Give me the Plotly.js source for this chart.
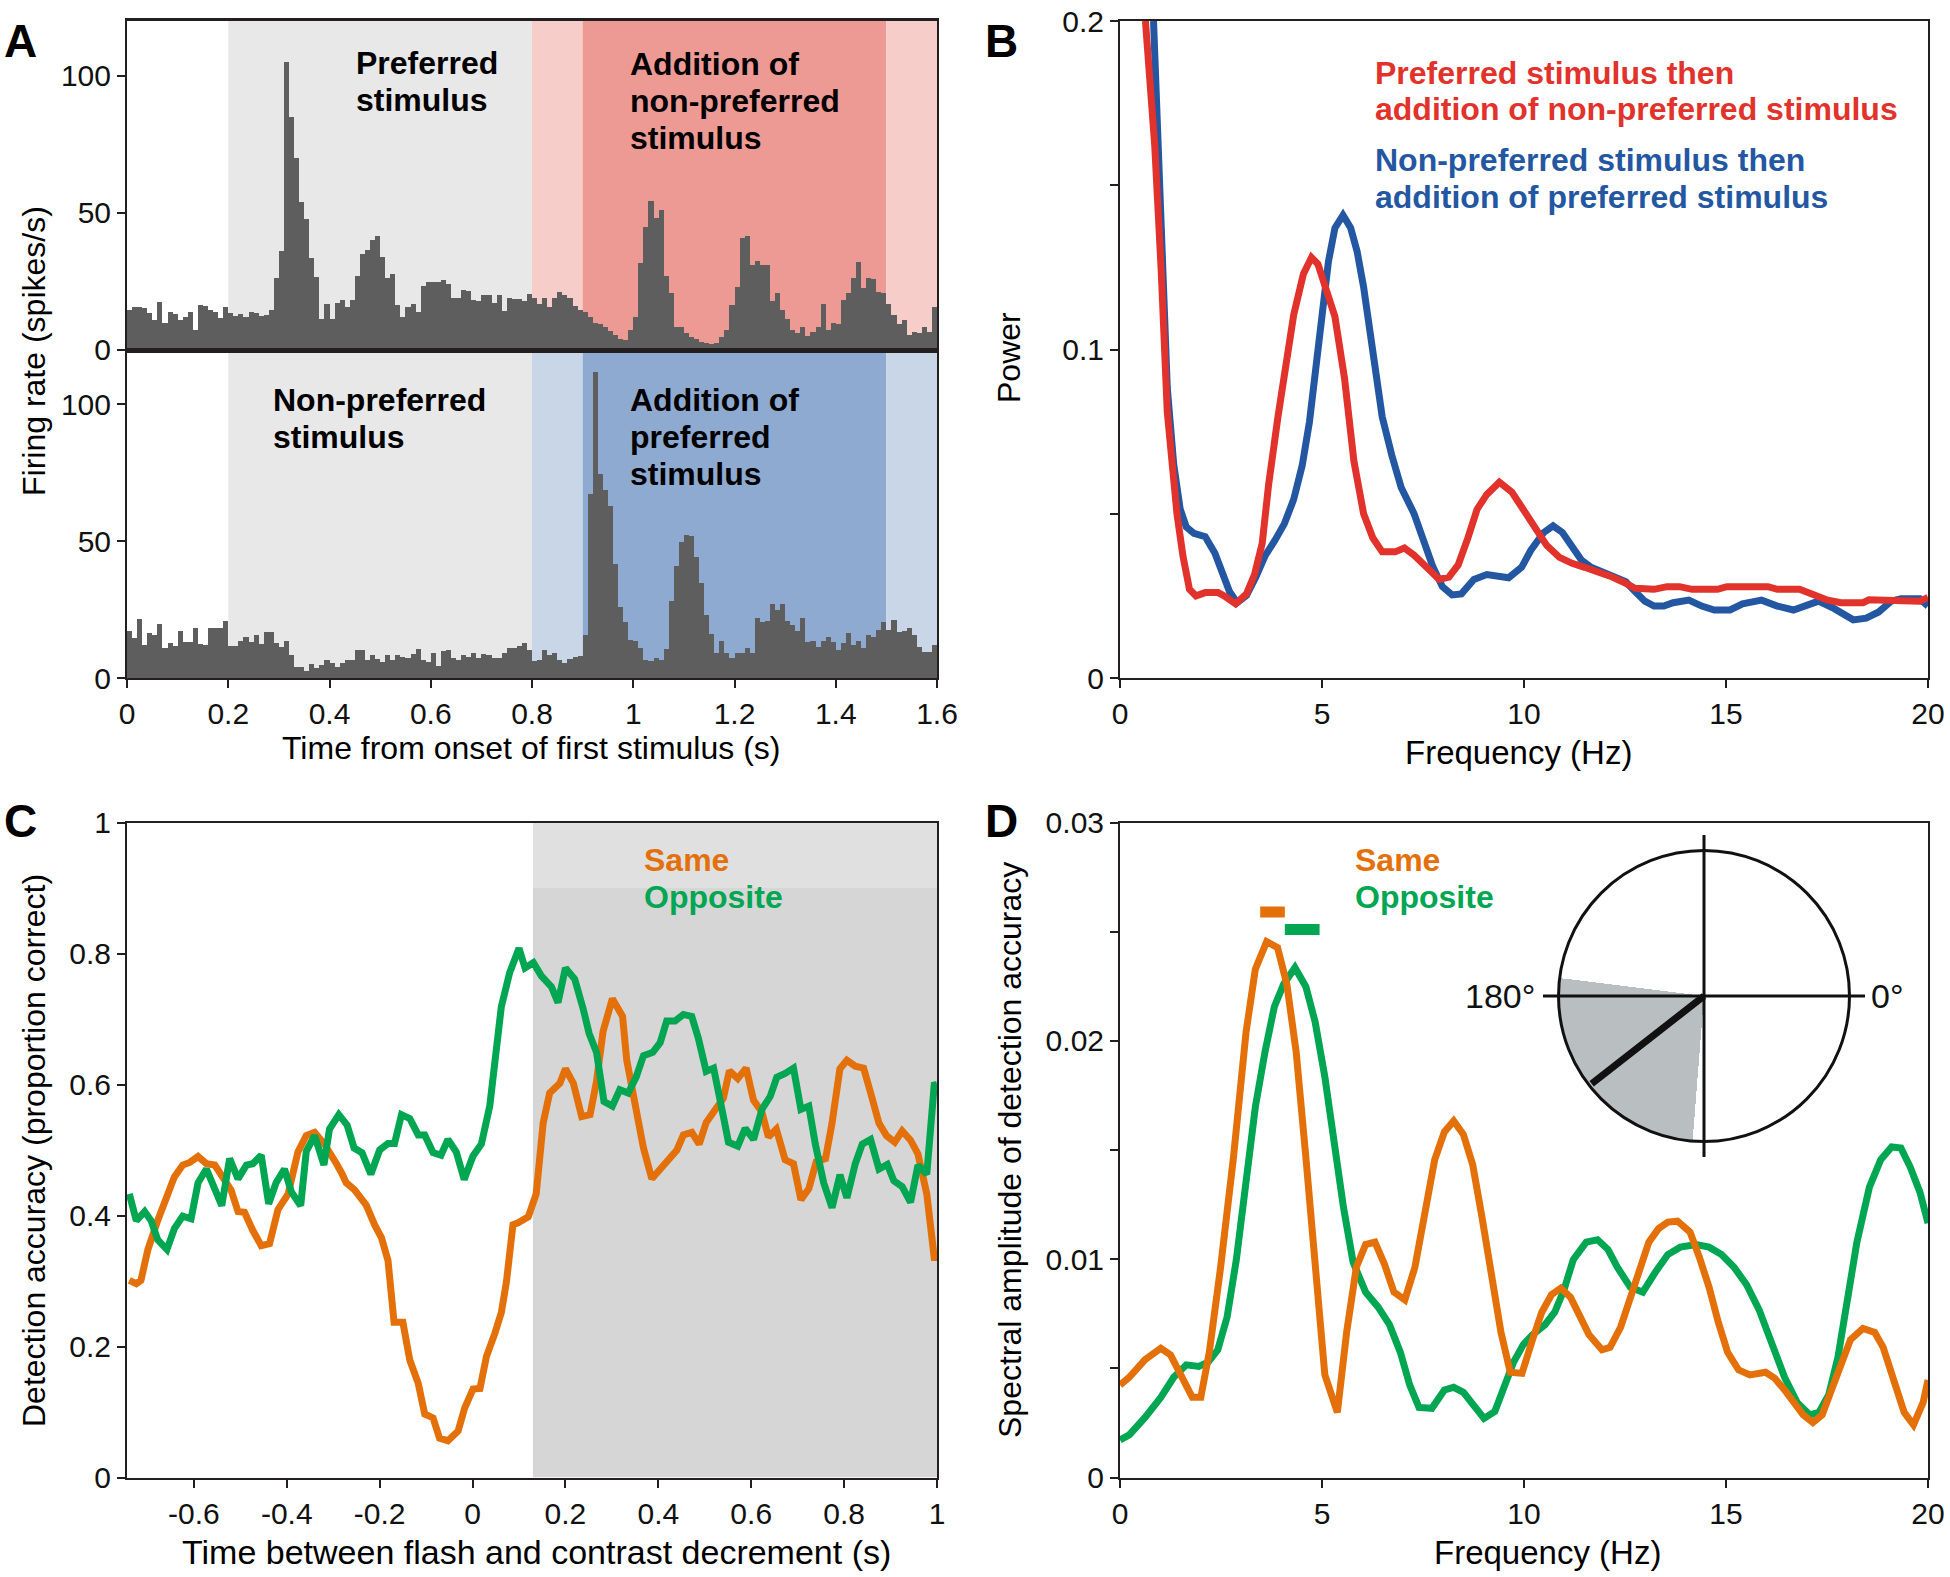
<!DOCTYPE html>
<html><head><meta charset="utf-8">
<script src="https://cdn.plot.ly/plotly-3.0.1.min.js"></script>
<style>html,body{margin:0;padding:0;background:#fff;}#chart{width:1950px;height:1577px;}</style>
</head><body><div id="chart"></div>
<script>
// ---------------- DATA ----------------
// Panel A: PSTH, 10 ms bins from 0 to 1.6 s (spikes/s)
const binStart = 0, binWidth = 0.01;
const prefFirstRate = [
 14.4,15.6,15.6,15.2,13.4,10.7,17.4,9.5,13.8,13.0,
 10.7,12.0,13.8,7.3,16.2,15.8,14.6,13.8,11.5,15.6,
 13.4,12.2,12.9,12.0,13.8,13.4,12.2,12.6,14.4,26.3,
 36.0,105,85,70,54,47.6,33.3,26.6,11.3,16.8,
 11.3,17.0,18.0,15.6,18.0,26.8,34.8,36.3,40.0,41.6,
 33.7,26.3,27.6,16.2,11.7,15.6,16.6,13.8,23.2,24.8,
 24.5,24.5,25.4,23.9,18.9,18.7,21.7,21.3,18.0,17.7,
 19.8,19.8,17.0,19.8,14.0,18.9,18.5,18.3,17.8,20.2,
 18.7,16.6,18.9,15.4,18.7,21.1,19.9,18.7,16.0,14.4,
 13.8,12.0,9.8,9.3,8.3,6.8,5.2,4.0,3.4,7.3,
 12.0,31.5,44.9,54.3,48.2,51.0,26.8,20.7,8.3,8.3,
 6.2,4.6,4.0,2.6,2.4,2.0,2.2,4.6,7.3,16.2,
 22.9,40.9,41.6,30.9,32.4,30.9,30.9,17.8,20.7,14.4,
 11.0,7.3,5.9,8.3,4.9,6.5,8.3,16.6,7.1,9.5,
 9.3,18.0,20.7,26.3,31.8,22.3,26.0,25.7,21.1,20.7,
 16.6,12.6,9.3,10.7,5.2,6.5,6.1,8.3,6.5,15.4];
const nonprefFirstRate = [
 17.2,14.7,21.6,12.1,16.3,15.7,19.6,11.1,12.7,11.8,
 17.2,13.0,13.0,18.1,12.3,12.1,18.1,18.1,18.4,20.8,
 11.8,11.8,13.5,15.1,13.3,15.7,12.3,16.7,16.7,12.7,
 11.4,13.5,8.4,4.1,4.1,2.6,5.0,3.5,4.8,6.6,
 5.4,4.1,5.4,6.6,6.6,10.2,10.2,6.6,8.4,7.0,
 6.0,8.4,6.6,8.4,7.8,7.2,8.6,10.6,6.6,6.0,
 9.3,4.5,9.9,10.2,7.2,6.6,8.4,7.8,9.3,7.2,
 8.8,8.4,7.2,7.4,9.0,10.8,10.8,11.8,12.7,10.2,
 6.2,6.6,10.2,8.4,9.3,6.6,5.4,6.9,7.8,8.2,
 15.7,67.1,111.9,74.4,68.5,62.8,41.5,25.8,20.6,13.9,
 13.5,11.1,6.6,6.2,7.4,6.6,10.6,28.1,41.0,49.5,
 52.3,51.9,44.3,34.6,23.0,16.0,9.0,13.5,9.0,7.2,
 9.3,9.0,11.1,9.0,21.8,20.3,20.8,26.9,25.0,26.9,
 20.8,19.4,17.2,21.8,13.3,13.5,11.4,13.5,15.1,13.0,
 10.2,12.7,16.3,12.1,13.5,10.8,15.7,15.1,17.5,20.6,
 17.5,21.2,16.7,17.2,18.1,15.7,11.4,9.6,9.6,12.1];
// stimulus epochs (s): first stimulus alone, transition, both, offset
const epochStart = [0.2, 0.8, 0.9, 1.5];
const epochEnd   = [0.8, 0.9, 1.5, 1.6];
const tickTimesA = [0,0.2,0.4,0.6,0.8,1,1.2,1.4,1.6];

// Panel B: power spectra
const freqRed = [0.63,0.86,1.02,1.17,1.41,1.56,1.72,1.88,2.11,2.43,2.58,2.86,3.13,3.33,3.52,3.68,3.91,4.15,4.30,4.54,4.74,4.90,5.09,5.32,5.56,5.79,6.03,6.26,6.49,6.81,7.04,7.28,7.59,7.90,8.14,8.37,8.61,8.84,9.08,9.39,9.70,10.02,10.33,10.56,10.88,11.19,11.50,11.82,12.13,12.44,12.75,13.22,13.54,13.85,14.16,14.79,15.02,16.04,16.27,16.82,17.05,17.29,17.52,17.84,18.39,18.54,19.17,19.48,19.80,20.0];
const powRed = [0.200,0.162,0.124,0.081,0.050,0.037,0.027,0.025,0.026,0.026,0.025,0.0226,0.0256,0.0315,0.041,0.059,0.0795,0.100,0.1106,0.123,0.128,0.126,0.118,0.110,0.091,0.066,0.050,0.0426,0.0384,0.0384,0.0396,0.0374,0.0337,0.030,0.0307,0.0344,0.0426,0.0514,0.0559,0.0596,0.0566,0.0507,0.0448,0.0404,0.0367,0.0349,0.0337,0.0325,0.031,0.0293,0.0273,0.027,0.0278,0.0278,0.027,0.027,0.0278,0.0278,0.027,0.027,0.026,0.0251,0.0237,0.0229,0.0229,0.0238,0.0238,0.0234,0.0234,0.0245];
const freqBlue = [0.83,1.02,1.17,1.33,1.49,1.64,1.83,2.11,2.35,2.55,2.71,2.90,3.13,3.36,3.60,3.83,4.07,4.30,4.51,4.69,4.85,5.01,5.16,5.32,5.52,5.71,5.87,6.03,6.26,6.49,6.73,6.96,7.28,7.51,7.75,7.98,8.22,8.45,8.76,9.08,9.31,9.62,9.94,10.17,10.49,10.72,10.95,11.19,11.42,11.66,11.97,12.28,12.52,12.75,12.99,13.22,13.46,13.69,14.08,14.40,14.71,15.10,15.41,15.88,16.27,16.67,17.05,17.29,17.68,18.15,18.47,18.78,19.09,19.33,19.80,20.0];
const powBlue = [0.200,0.133,0.0884,0.065,0.0514,0.046,0.044,0.043,0.038,0.0315,0.0263,0.0229,0.0251,0.0307,0.0374,0.0418,0.047,0.0544,0.0647,0.078,0.0943,0.112,0.1268,0.137,0.1409,0.137,0.1298,0.119,0.100,0.0795,0.0677,0.058,0.050,0.0426,0.0337,0.0278,0.0253,0.0256,0.030,0.0315,0.031,0.0305,0.0337,0.0389,0.0443,0.0463,0.0443,0.0404,0.0359,0.0337,0.0322,0.0307,0.0293,0.0263,0.0234,0.0219,0.0219,0.0229,0.0237,0.0219,0.0207,0.0207,0.0226,0.0237,0.0219,0.0207,0.0222,0.0234,0.0211,0.0177,0.0182,0.0201,0.0234,0.0241,0.0241,0.0219];

// Panel C: detection accuracy vs time between flash and contrast decrement
const timeSame = [-0.739,-0.724,-0.714,-0.699,-0.678,-0.660,-0.642,-0.624,-0.609,-0.591,
 -0.573,-0.555,-0.537,-0.520,-0.505,-0.491,-0.473,-0.455,-0.437,-0.419,
 -0.397,-0.376,-0.358,-0.340,-0.320,-0.304,-0.293,-0.282,-0.272,-0.254,
 -0.239,-0.229,-0.211,-0.196,-0.182,-0.169,-0.150,-0.135,-0.117,-0.103,
 -0.085,-0.071,-0.053,-0.031,-0.017,0.001,0.016,0.030,0.048,0.062,
 0.073,0.087,0.098,0.120,0.137,0.152,0.166,0.188,0.200,0.217,
 0.235,0.253,0.267,0.281,0.301,0.323,0.332,0.352,0.368,0.386,
 0.407,0.425,0.440,0.454,0.472,0.488,0.503,0.522,0.540,0.553,
 0.571,0.589,0.605,0.623,0.637,0.654,0.673,0.691,0.707,0.724,
 0.740,0.760,0.774,0.791,0.806,0.824,0.842,0.858,0.875,0.891,
 0.909,0.925,0.943,0.959,0.978,0.994,1.0];
const accSame = [0.301,0.296,0.301,0.348,0.392,0.426,0.459,0.477,0.481,0.490,
 0.479,0.477,0.459,0.439,0.406,0.405,0.377,0.354,0.357,0.409,
 0.433,0.497,0.522,0.527,0.510,0.494,0.479,0.465,0.450,0.439,
 0.426,0.416,0.386,0.366,0.331,0.237,0.237,0.179,0.144,0.097,
 0.091,0.060,0.056,0.071,0.106,0.135,0.136,0.185,0.220,0.252,
 0.299,0.386,0.389,0.398,0.433,0.541,0.587,0.602,0.624,0.602,
 0.551,0.554,0.605,0.681,0.731,0.704,0.637,0.561,0.503,0.456,
 0.472,0.487,0.500,0.523,0.527,0.509,0.542,0.561,0.579,0.621,
 0.609,0.625,0.576,0.558,0.520,0.532,0.485,0.479,0.424,0.441,
 0.482,0.487,0.541,0.624,0.637,0.628,0.625,0.585,0.541,0.522,
 0.512,0.529,0.515,0.494,0.433,0.336,0.336];
const timeOpp = [-0.739,-0.724,-0.706,-0.692,-0.678,-0.658,-0.642,-0.624,-0.606,-0.591,
 -0.573,-0.559,-0.540,-0.523,-0.505,-0.487,-0.473,-0.455,-0.439,-0.423,
 -0.405,-0.390,-0.370,-0.358,-0.340,-0.320,-0.308,-0.288,-0.270,-0.255,
 -0.238,-0.219,-0.200,-0.182,-0.168,-0.153,-0.135,-0.117,-0.103,-0.085,
 -0.068,-0.053,-0.035,-0.018,0.001,0.019,0.037,0.062,0.080,0.100,
 0.113,0.131,0.148,0.170,0.184,0.200,0.220,0.238,0.251,0.267,
 0.283,0.301,0.317,0.335,0.352,0.368,0.388,0.404,0.418,0.436,
 0.454,0.472,0.486,0.503,0.519,0.537,0.551,0.571,0.587,0.605,
 0.623,0.641,0.655,0.673,0.691,0.707,0.724,0.738,0.756,0.774,
 0.791,0.806,0.824,0.839,0.857,0.875,0.893,0.907,0.925,0.943,
 0.959,0.978,0.994,1.0];
const accOpp = [0.433,0.392,0.406,0.392,0.363,0.348,0.380,0.399,0.395,0.450,
 0.471,0.447,0.415,0.487,0.456,0.477,0.479,0.492,0.418,0.450,
 0.471,0.436,0.415,0.498,0.522,0.477,0.532,0.554,0.538,0.503,
 0.496,0.463,0.500,0.510,0.510,0.554,0.548,0.523,0.523,0.496,
 0.492,0.516,0.497,0.455,0.491,0.509,0.567,0.719,0.771,0.808,
 0.778,0.786,0.766,0.749,0.725,0.778,0.761,0.716,0.678,0.649,
 0.574,0.567,0.592,0.587,0.611,0.644,0.649,0.664,0.697,0.697,
 0.707,0.704,0.671,0.620,0.625,0.562,0.512,0.506,0.533,0.516,
 0.562,0.582,0.611,0.617,0.625,0.562,0.567,0.509,0.450,0.412,
 0.462,0.427,0.479,0.509,0.516,0.471,0.478,0.453,0.444,0.420,
 0.477,0.463,0.599,0.600];
const cueWindow = [0.13, 1.0];
const legendBandFrom = 0.9;

// Panel D: spectral amplitude of detection accuracy
const freqSame = [0,0.23,0.62,1.01,1.25,1.56,1.79,2.0,2.21,2.49,2.81,3.12,3.35,3.63,3.9,4.13,4.36,4.6,4.83,5.07,5.38,5.61,5.85,6.08,6.31,6.55,6.78,7.05,7.3,7.56,7.79,8.03,8.26,8.5,8.73,8.96,9.2,9.43,9.66,9.95,10.21,10.44,10.68,10.91,11.15,11.38,11.61,11.93,12.13,12.39,12.63,12.86,13.09,13.33,13.56,13.8,14.11,14.34,14.58,14.81,15.04,15.31,15.59,15.98,16.21,16.45,16.68,16.91,17.15,17.38,17.61,17.85,18.08,18.39,18.68,18.89,19.14,19.41,19.64,19.88,20.0];
const ampSame = [0.00424,0.00459,0.0054,0.00592,0.00562,0.00459,0.00367,0.00367,0.00573,0.00963,0.01468,0.0204,0.02328,0.02454,0.02427,0.02259,0.0195,0.01468,0.00963,0.0047,0.00298,0.00665,0.00963,0.01067,0.01078,0.00975,0.00849,0.00814,0.00963,0.01239,0.01456,0.01583,0.01633,0.01571,0.01433,0.01193,0.00917,0.00665,0.00482,0.00477,0.00631,0.00757,0.00837,0.00867,0.00826,0.00745,0.00654,0.00585,0.00596,0.00688,0.00826,0.00963,0.01078,0.0114,0.0117,0.01174,0.01124,0.01009,0.00872,0.00711,0.00573,0.00493,0.0047,0.00482,0.00454,0.00401,0.00344,0.00287,0.00252,0.00287,0.00401,0.00528,0.00631,0.00683,0.00665,0.00596,0.00447,0.00298,0.00241,0.00344,0.00447];
const freqOpp = [0,0.23,0.62,1.01,1.33,1.64,1.95,2.18,2.42,2.65,2.88,3.12,3.35,3.59,3.82,4.05,4.33,4.6,4.83,5.07,5.3,5.53,5.77,6.08,6.39,6.67,6.94,7.17,7.4,7.72,8.03,8.26,8.5,8.73,9.01,9.28,9.51,9.74,9.98,10.21,10.52,10.76,10.99,11.22,11.54,11.82,12.08,12.31,12.63,12.94,13.25,13.56,13.87,14.26,14.58,14.89,15.2,15.51,15.82,16.13,16.45,16.76,17.07,17.3,17.54,17.77,18.0,18.24,18.55,18.83,19.1,19.33,19.56,19.8,20.0];
const ampOpp = [0.00172,0.00195,0.00275,0.00367,0.00459,0.00516,0.00509,0.00528,0.00585,0.00734,0.00998,0.0133,0.01697,0.0195,0.02156,0.02259,0.02335,0.02248,0.02087,0.01835,0.01537,0.01239,0.00986,0.00849,0.0078,0.007,0.00573,0.00424,0.00321,0.00317,0.00401,0.00413,0.0039,0.00333,0.00271,0.00303,0.00413,0.00528,0.00608,0.00654,0.007,0.00757,0.0086,0.00998,0.01078,0.01089,0.01044,0.00963,0.00872,0.00849,0.0094,0.01021,0.01055,0.01067,0.01055,0.01021,0.00963,0.00883,0.00768,0.00619,0.00459,0.00344,0.00287,0.00298,0.00378,0.0055,0.00803,0.01078,0.0133,0.01456,0.01514,0.01509,0.01422,0.01307,0.01165];
// significance bars (frequency extent, level)
const sigSameFreq = [3.47, 4.08], sigSameLevel = 0.0259;
const sigOppFreq  = [4.08, 4.94], sigOppLevel  = 0.0251;
// inset: phase (deg)
const phaseMean = 218;
const phaseCI = [172.9, 265.5];
const axisAngles = [0, 180, 90, 270];

// ---------------- LAYOUT HELPERS ----------------
const W = 1950, H = 1577;
const FONT = 'Liberation Sans, Arial, Helvetica, sans-serif';
const px = x => x / W;
const py = y => 1 - y / H;
const INK = '#231f20';
function ax(extra) {
  return Object.assign({
    showline: true, linecolor: INK, linewidth: 2, mirror: true,
    ticks: 'outside', ticklen: 8, tickwidth: 2, tickcolor: INK,
    showgrid: false, zeroline: false, fixedrange: true,
    tickfont: {family: FONT, size: 30, color: '#111'}
  }, extra);
}
function ann(text, x, y, o) {
  return Object.assign({text: text, xref: 'paper', yref: 'paper', x: px(x), y: py(y),
    xanchor: 'left', yanchor: 'middle', showarrow: false,
    font: {family: FONT, size: 32, color: '#000'}}, o || {});
}

const Ax = [127, 937], Bx = [1120, 1928];
const topY = [21, 349.5], botY = [349.5, 678], lowY = [822.5, 1477.5];
const LW = 7;

// ---------------- TRACES ----------------
const traces = [];
traces.push({type: 'bar', x0: binStart + binWidth / 2, dx: binWidth, y: prefFirstRate, width: binWidth,
  marker: {color: '#5e5e5e', line: {width: 0}}, xaxis: 'x', yaxis: 'y', hoverinfo: 'skip'});
traces.push({type: 'bar', x0: binStart + binWidth / 2, dx: binWidth, y: nonprefFirstRate, width: binWidth,
  marker: {color: '#5e5e5e', line: {width: 0}}, xaxis: 'x2', yaxis: 'y2', hoverinfo: 'skip'});
traces.push({type: 'scatter', mode: 'lines', x: freqBlue, y: powBlue, xaxis: 'x3', yaxis: 'y3',
  line: {color: '#2457a2', width: LW}});
traces.push({type: 'scatter', mode: 'lines', x: freqRed, y: powRed, xaxis: 'x3', yaxis: 'y3',
  line: {color: '#e2322c', width: LW}});
traces.push({type: 'scatter', mode: 'lines', x: timeSame, y: accSame, xaxis: 'x4', yaxis: 'y4',
  line: {color: '#e4700a', width: LW}});
traces.push({type: 'scatter', mode: 'lines', x: timeOpp, y: accOpp, xaxis: 'x4', yaxis: 'y4',
  line: {color: '#00a651', width: LW}});
traces.push({type: 'scatter', mode: 'lines', x: freqOpp, y: ampOpp, xaxis: 'x5', yaxis: 'y5',
  line: {color: '#00a651', width: LW}});
traces.push({type: 'scatter', mode: 'lines', x: freqSame, y: ampSame, xaxis: 'x5', yaxis: 'y5',
  line: {color: '#e4700a', width: LW}});
traces.push({type: 'scatter', mode: 'lines', x: sigSameFreq, y: [sigSameLevel, sigSameLevel], xaxis: 'x5', yaxis: 'y5',
  line: {color: '#e4700a', width: 11}, cliponaxis: false});
traces.push({type: 'scatter', mode: 'lines', x: sigOppFreq, y: [sigOppLevel, sigOppLevel], xaxis: 'x5', yaxis: 'y5',
  line: {color: '#00a651', width: 11}, cliponaxis: false});
// inset crosshair (extends beyond circle)
traces.push({type: 'scatter', mode: 'lines', x: [-1, 1, null, 0, 0], y: [0, 0, null, -1, 1], xaxis: 'x6', yaxis: 'y6',
  line: {color: '#111', width: 3}});
// inset polar
traces.push({type: 'barpolar', r: [1], theta: [(phaseCI[0] + phaseCI[1]) / 2], width: [phaseCI[1] - phaseCI[0]],
  marker: {color: '#b9bec1', line: {width: 0}}, subplot: 'polar'});
traces.push({type: 'scatterpolar', mode: 'lines', r: [1, 0, 1, null, 1, 0, 1],
  theta: [axisAngles[0], axisAngles[0], axisAngles[1], null, axisAngles[2], axisAngles[2], axisAngles[3]],
  line: {color: '#111', width: 3}, subplot: 'polar'});
traces.push({type: 'scatterpolar', mode: 'lines', r: [0, 0.98], theta: [phaseMean, phaseMean],
  line: {color: '#111', width: 7}, subplot: 'polar'});

// ---------------- SHAPES ----------------
const shapes = [];
const topCols = ['#e8e8e8', '#f7cdca', '#ee9a94', '#f7cdca'];
const botCols = ['#e8e8e8', '#c9d6e8', '#8eaad0', '#c9d6e8'];
epochStart.forEach((s, i) => {
  shapes.push({type: 'rect', xref: 'x', yref: 'y domain', x0: s, x1: epochEnd[i], y0: 0, y1: 1,
    fillcolor: topCols[i], line: {width: 0}, layer: 'below'});
  shapes.push({type: 'rect', xref: 'x2', yref: 'y2 domain', x0: s, x1: epochEnd[i], y0: 0, y1: 1,
    fillcolor: botCols[i], line: {width: 0}, layer: 'below'});
});
shapes.push({type: 'rect', xref: 'x4', yref: 'y4', x0: cueWindow[0], x1: cueWindow[1], y0: 0, y1: legendBandFrom,
  fillcolor: '#d6d6d6', line: {width: 0}, layer: 'below'});
shapes.push({type: 'rect', xref: 'x4', yref: 'y4', x0: cueWindow[0], x1: cueWindow[1], y0: legendBandFrom, y1: 1,
  fillcolor: '#e0e0e0', line: {width: 0}, layer: 'below'});

// ---------------- ANNOTATIONS ----------------
const B = s => '<b>' + s + '</b>';
const annotations = [
  ann(B('A'), 2, 41, {font: {family: FONT, size: 46, color: '#000'}}),
  ann(B('B'), 983, 41, {font: {family: FONT, size: 46, color: '#000'}}),
  ann(B('C'), 2, 821, {font: {family: FONT, size: 46, color: '#000'}}),
  ann(B('D'), 983, 821, {font: {family: FONT, size: 46, color: '#000'}}),
  ann(B('Preferred'), 354, 63), ann(B('stimulus'), 354, 100.5),
  ann(B('Addition of'), 628, 63.5), ann(B('non-preferred'), 628, 100.8), ann(B('stimulus'), 628, 138),
  ann(B('Non-preferred'), 271, 399.7), ann(B('stimulus'), 271, 437),
  ann(B('Addition of'), 628, 399.7), ann(B('preferred'), 628, 436.7), ann(B('stimulus'), 628, 474),
  ann(B('Preferred stimulus then'), 1373, 73.4, {font: {family: FONT, size: 32, color: '#e2322c'}}),
  ann(B('addition of non-preferred stimulus'), 1373, 108.5, {font: {family: FONT, size: 32, color: '#e2322c'}}),
  ann(B('Non-preferred stimulus then'), 1373, 160, {font: {family: FONT, size: 32, color: '#2457a2'}}),
  ann(B('addition of preferred stimulus'), 1373, 197, {font: {family: FONT, size: 32, color: '#2457a2'}}),
  ann(B('Same'), 642, 860, {font: {family: FONT, size: 32, color: '#e4700a'}}),
  ann(B('Opposite'), 642, 897, {font: {family: FONT, size: 32, color: '#00a651'}}),
  ann(B('Same'), 1353, 860, {font: {family: FONT, size: 32, color: '#e4700a'}}),
  ann(B('Opposite'), 1353, 897, {font: {family: FONT, size: 32, color: '#00a651'}}),
  // axis titles
  ann('Time from onset of first stimulus (s)', 531, 748, {xanchor: 'center'}),
  ann('Frequency (Hz)', 1518, 752, {xanchor: 'center', font: {family: FONT, size: 33, color: '#000'}}),
  ann('Time between flash and contrast decrement (s)', 536, 1552, {xanchor: 'center', font: {family: FONT, size: 34, color: '#000'}}),
  ann('Frequency (Hz)', 1547, 1552, {xanchor: 'center', font: {family: FONT, size: 33, color: '#000'}}),
  ann('Firing rate (spikes/s)', 34, 351, {xanchor: 'center', textangle: -90}),
  ann('Power', 1009, 358, {xanchor: 'center', textangle: -90}),
  ann('Detection accuracy (proportion correct)', 34, 1151, {xanchor: 'center', textangle: -90}),
  ann('Spectral amplitude of detection accuracy', 1010, 1150, {xanchor: 'center', textangle: -90}),
  // inset labels
  ann('180°', 1537, 996, {xanchor: 'right', font: {family: FONT, size: 34, color: '#111'}}),
  ann('0°', 1869, 996, {font: {family: FONT, size: 34, color: '#111'}})
];

// ---------------- LAYOUT ----------------
const layout = {
  width: W, height: H, autosize: false,
  margin: {l: 0, r: 0, t: 0, b: 0, pad: 0},
  paper_bgcolor: '#fff', plot_bgcolor: 'rgba(0,0,0,0)',
  showlegend: false, bargap: 0,
  font: {family: FONT, size: 30, color: '#111'},
  xaxis: ax({domain: [px(Ax[0]), px(Ax[1])], anchor: 'y', range: [0, 1.6], ticks: '', showticklabels: false, linewidth: 3}),
  yaxis: ax({domain: [py(topY[1]), py(topY[0])], anchor: 'x', range: [0, 120], tickvals: [0, 50, 100]}),
  xaxis2: ax({domain: [px(Ax[0]), px(Ax[1])], anchor: 'y2', range: [0, 1.6], tickvals: tickTimesA}),
  yaxis2: ax({domain: [py(botY[1]), py(botY[0])], anchor: 'x2', range: [0, 120], tickvals: [0, 50, 100]}),
  xaxis3: ax({domain: [px(Bx[0]), px(Bx[1])], anchor: 'y3', range: [0, 20], tickvals: [0, 5, 10, 15, 20]}),
  yaxis3: ax({domain: [py(botY[1]), py(topY[0])], anchor: 'x3', range: [0, 0.2],
    tickvals: [0, 0.05, 0.1, 0.15, 0.2], ticktext: ['0', '', '0.1', '', '0.2']}),
  xaxis4: ax({domain: [px(Ax[0]), px(Ax[1])], anchor: 'y4', range: [-0.744, 1],
    tickvals: [-0.6, -0.4, -0.2, 0, 0.2, 0.4, 0.6, 0.8, 1],
    ticktext: ['-0.6', '-0.4', '-0.2', '0', '0.2', '0.4', '0.6', '0.8', '1']}),
  yaxis4: ax({domain: [py(lowY[1]), py(lowY[0])], anchor: 'x4', range: [0, 1],
    tickvals: [0, 0.2, 0.4, 0.6, 0.8, 1], ticktext: ['0', '0.2', '0.4', '0.6', '0.8', '1']}),
  xaxis5: ax({domain: [px(Bx[0]), px(Bx[1])], anchor: 'y5', range: [0, 20], tickvals: [0, 5, 10, 15, 20]}),
  yaxis5: ax({domain: [py(lowY[1]), py(lowY[0])], anchor: 'x5', range: [0, 0.03],
    tickvals: [0, 0.005, 0.01, 0.015, 0.02, 0.025, 0.03], ticktext: ['0', '', '0.01', '', '0.02', '', '0.03']}),
  xaxis6: {domain: [px(1704 - 161), px(1704 + 161)], anchor: 'y6', range: [-1, 1], visible: false, fixedrange: true},
  yaxis6: {domain: [py(996 + 161), py(996 - 161)], anchor: 'x6', range: [-1, 1], visible: false, fixedrange: true},
  polar: {
    domain: {x: [px(1704 - 145.5), px(1704 + 145.5)], y: [py(996 + 145.5), py(996 - 145.5)]},
    bgcolor: '#fff', hole: 0,
    radialaxis: {visible: false, range: [0, 1]},
    angularaxis: {visible: true, showline: true, linecolor: '#111', linewidth: 3, showgrid: false,
      ticks: '', showticklabels: false, rotation: 0, direction: 'counterclockwise'}
  },
  shapes: shapes,
  annotations: annotations
};

Plotly.newPlot('chart', traces, layout, {staticPlot: true, displayModeBar: false});
</script></body></html>
